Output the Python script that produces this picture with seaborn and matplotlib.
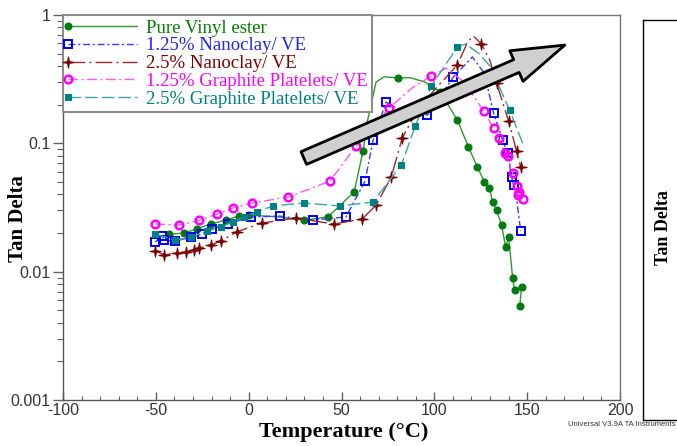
import numpy as np
import pandas as pd
import matplotlib
matplotlib.use("Agg")
import matplotlib.pyplot as plt
from matplotlib.legend_handler import HandlerLine2D
from matplotlib.path import Path
import matplotlib.ticker as mticker
import seaborn as sns

# ---------------- data ----------------
pve_T = [-46, -43, -34.6, -28, -20.5, -12.4, -5.4, 0, 16.2, 29.7, 42.7, 56.8, 61.6, 64, 68.6, 73,
         80.5, 87, 95, 103.2, 112.4, 118.4, 123.2, 127, 129.7, 131.4, 133.5, 136.2, 138.4, 140,
         142.2, 143.2, 147, 146]
pve_y = [0.0190, 0.0196, 0.0200, 0.0215, 0.0235, 0.0252, 0.0271, 0.0276, 0.0267, 0.0252, 0.0267,
         0.0417, 0.0871, 0.15, 0.30, 0.33, 0.323, 0.325, 0.30, 0.251, 0.152, 0.0936, 0.0653,
         0.0499, 0.0448, 0.0349, 0.0302, 0.0231, 0.0156, 0.0186, 0.0089, 0.0072, 0.0076, 0.0054]
pve_mark = [1, 2, 3, 4, 5, 6, 7, 9, 10, 11, 12, 16, 19, 20, 21, 22, 23, 24, 25, 26, 27, 28, 29,
            30, 31, 32, 33]

nc125_T = [-50.3, -46.5, -45.4, -39.5, -30.8, -25.4, -20, -11.4, 1.1, 16.8, 34.6, 52.4, 62.7, 67,
           74, 81, 96.2, 110.3, 120.5, 127, 131.9, 136.8, 139.5, 141.6, 142.7, 144.5, 146.5]
nc125_y = [0.0170, 0.0189, 0.0176, 0.0173, 0.0186, 0.0196, 0.0215, 0.0235, 0.0267, 0.0271, 0.0252,
           0.0267, 0.0508, 0.106, 0.210, 0.182, 0.166, 0.329, 0.471, 0.35, 0.172, 0.106, 0.084,
           0.0546, 0.0473, 0.035, 0.0207]
nc125_mark = [0, 1, 2, 3, 4, 5, 6, 7, 8, 9, 10, 11, 12, 13, 14, 16, 17, 20, 21, 22, 23, 24, 26]

nc25_T = [-50.3, -45.4, -38.4, -33.5, -29.7, -27, -20.5, -15.1, -6.5, 7, 25.4, 45.9, 61.1, 68.6,
          76.8, 82.7, 91.9, 103, 112.4, 118, 121, 125.4, 130, 133.5, 140, 144.3, 146.5]
nc25_y = [0.0145, 0.0135, 0.0140, 0.0142, 0.0147, 0.0153, 0.0161, 0.0173, 0.0204, 0.0239, 0.0262,
          0.0235, 0.0257, 0.0330, 0.0546, 0.110, 0.192, 0.29, 0.408, 0.62, 0.686, 0.594, 0.44,
          0.295, 0.149, 0.0871, 0.0653]
nc25_mark = [0, 1, 2, 3, 4, 5, 6, 7, 8, 9, 10, 11, 12, 13, 14, 15, 16, 18, 21, 23, 24, 25, 26]

gp125_T = [-50.3, -37.3, -26.5, -16.8, -8.6, 1.6, 21.1, 43.8, 57.8, 75.7, 88, 98.4, 106.5, 116,
           126.5, 131.9, 134.6, 137.8, 139.5, 142.2, 144.3, 145.4, 147.6, 144.9]
gp125_y = [0.0235, 0.0231, 0.0252, 0.0281, 0.0313, 0.0343, 0.0381, 0.0508, 0.0953, 0.188, 0.27,
           0.335, 0.386, 0.30, 0.179, 0.132, 0.110, 0.084, 0.0796, 0.0587, 0.0465, 0.0417,
           0.0368, 0.0395]
gp125_mark = [0, 1, 2, 3, 4, 5, 6, 7, 8, 9, 11, 14, 15, 16, 17, 18, 19, 20, 21, 22, 23]

gp25_T = [-50.3, -39.5, -30.8, -22.2, -15.1, -8.6, -2.7, 4.3, 13, 29.7, 49.2, 67, 82.2, 89.7, 98.4,
          112.4, 116.8, 124, 130, 140.5, 147.6]
gp25_y = [0.0196, 0.0176, 0.0186, 0.0207, 0.0223, 0.0244, 0.0267, 0.0292, 0.0325, 0.0343, 0.0325,
          0.0349, 0.0677, 0.136, 0.280, 0.563, 0.594, 0.50, 0.40, 0.182, 0.100]
gp25_mark = [0, 1, 2, 3, 4, 5, 6, 7, 8, 9, 10, 11, 12, 13, 14, 15, 19]

labels = ["Pure Vinyl ester", "1.25% Nanoclay/ VE", "2.5% Nanoclay/ VE",
          "1.25% Graphite Platelets/ VE", "2.5% Graphite Platelets/ VE"]

x_ticks = [-100, -50, 0, 50, 100, 150, 200]
y_ticks = [0.001, 0.01, 0.1, 1]
y_ticklabels = ["0.001", "0.01", "0.1", "1"]

# ---------------- styling ----------------
sns.set_theme(style="white")
plt.rcParams["font.family"] = ["Liberation Sans", "DejaVu Sans"]

# thin four-pointed star marker
_ang = np.deg2rad(np.arange(0, 360, 45) + 90)
_rad = np.array([1.0, 0.22] * 4)
_verts = np.column_stack([_rad * np.cos(_ang), _rad * np.sin(_ang)])
_verts = np.vstack([_verts, _verts[:1]])
star4 = Path(_verts, closed=True)

fig = plt.figure(figsize=(6.77, 4.46), dpi=100)
ax = fig.add_axes([63 / 677, 1 - 400 / 446, 557 / 677, 385 / 446])

series = [
    dict(T=pve_T, y=pve_y, mk=pve_mark, lc="#2e9a2e", mc="#007a10", marker="o", ms=5,
         mfc="#007a10", mew=0.8, ls="-", tc="#008000"),
    dict(T=nc125_T, y=nc125_y, mk=nc125_mark, lc="#3a3aff", mc="#0000ff", marker="s", ms=5.5,
         mfc="none", mew=1.4, ls=(0, (5, 2, 1.5, 2)), tc="#2020ff"),
    dict(T=nc25_T, y=nc25_y, mk=nc25_mark, lc="#9a2a2a", mc="#7a0000", marker=star4, ms=8,
         mfc="#7a0000", mew=0.8, ls=(0, (12, 3, 1.5, 3)), tc="#800000"),
    dict(T=gp125_T, y=gp125_y, mk=gp125_mark, lc="#ff55ff", mc="#ff00ff", marker="o", ms=5.5,
         mfc="none", mew=1.8, ls=(0, (7, 2.5, 1.5, 2.5)), tc="#ff00ff"),
    dict(T=gp25_T, y=gp25_y, mk=gp25_mark, lc="#3aa6a6", mc="#008080", marker="s", ms=5,
         mfc="#008080", mew=0.8, ls=(0, (9, 3)), tc="#008080"),
]

handles = []
for s, lab in zip(series, labels):
    df = pd.DataFrame({"T": s["T"], "y": s["y"]})
    sns.lineplot(data=df, x="T", y="y", sort=False, estimator=None, ax=ax,
                 color=s["lc"], linewidth=1.0, linestyle=s["ls"], marker=s["marker"],
                 markersize=s["ms"], markerfacecolor=s["mfc"], markeredgecolor=s["mc"],
                 markeredgewidth=s["mew"], markevery=s["mk"], label=lab, zorder=3)
    handles.append(ax.lines[-1])

ax.set_yscale("log")
ax.set_xlim(-100, 200)
ax.set_ylim(0.001, 1)
ax.set_xticks(x_ticks)
ax.set_xticklabels([str(v) for v in x_ticks])
ax.xaxis.set_minor_locator(mticker.MultipleLocator(10))
ax.set_yticks(y_ticks)
ax.set_yticklabels(y_ticklabels)
ax.yaxis.set_minor_locator(mticker.LogLocator(base=10, subs=np.arange(2, 10)))
ax.yaxis.set_minor_formatter(mticker.NullFormatter())

ax.tick_params(axis="x", which="major", direction="in", length=6, width=1, color="#606060",
               labelsize=11.5, labelcolor="#333333", pad=2, bottom=True)
ax.tick_params(axis="x", which="minor", direction="in", length=3, width=0.8, color="#606060",
               bottom=True)
ax.tick_params(axis="y", which="major", direction="out", length=7, width=1, color="#606060",
               labelsize=11.5, labelcolor="#333333", pad=2, left=True)
ax.tick_params(axis="y", which="minor", direction="out", length=4, width=0.8, color="#606060",
               left=True)

for side in ["left", "bottom"]:
    ax.spines[side].set_color("#555555")
    ax.spines[side].set_linewidth(1.0)
for side in ["top", "right"]:
    ax.spines[side].set_color("#777777")
    ax.spines[side].set_linewidth(1.0)

ax.set_xlabel("Temperature (\u00b0C)", fontsize=16, fontweight="bold",
              family=["Liberation Serif", "DejaVu Serif"], color="black")
ax.set_ylabel("Tan Delta", fontsize=15, fontweight="bold",
              family=["Liberation Serif", "DejaVu Serif"], color="black")
ax.xaxis.set_label_coords(0.504, -0.058)
ax.yaxis.set_label_coords(-0.063, 0.47)


class LeftMarkerHandler(HandlerLine2D):
    def create_artists(self, *args, **kwargs):
        arts = super().create_artists(*args, **kwargs)
        for a in arts:
            a.set_markevery([0])
        return arts


leg = ax.legend(handles=handles, labels=labels, loc="upper left", bbox_to_anchor=(0, 1),
                borderaxespad=0, frameon=True, fancybox=False, framealpha=1,
                edgecolor="#8c8c8c", handlelength=3.7, handletextpad=0.45, numpoints=1,
                labelspacing=0.03, borderpad=0.25,
                prop={"family": ["Liberation Serif", "DejaVu Serif"], "size": 13.5},
                handler_map={h: LeftMarkerHandler(numpoints=1) for h in handles})
leg.get_frame().set_linewidth(1.5)
for txt, s in zip(leg.get_texts(), series):
    txt.set_color(s["tc"])
leg.set_zorder(5)

# big grey arrow
ax.annotate("", xy=(170.3, 0.583), xytext=(29.7, 0.0768),
            arrowprops=dict(arrowstyle="simple,head_length=1.9,head_width=1.2,tail_width=0.5",
                            fc="#d0d0d0", ec="black", lw=2.0, shrinkA=0, shrinkB=0,
                            mutation_scale=20),
            zorder=6)

# partial second panel at the right edge
ax2 = fig.add_axes([643 / 677, 1 - 420 / 446, 0.2, 400 / 446])
ax2.set_xticks([])
ax2.set_yticks([])
for side in ["left", "top", "bottom", "right"]:
    ax2.spines[side].set_color("black")
    ax2.spines[side].set_linewidth(1.0)
ax2.text(0.15, 0.48, "Tan Delta", rotation=90, transform=ax2.transAxes, ha="center",
         va="center", fontsize=13, fontweight="bold",
         family=["Liberation Serif", "DejaVu Serif"], color="black")

fig.text(0.998, 1 - 425 / 446, "Universal V3.9A TA Instruments", ha="right", va="center",
         fontsize=5.5, color="#333333")

fig.savefig("out.png", dpi=100, facecolor="white")
